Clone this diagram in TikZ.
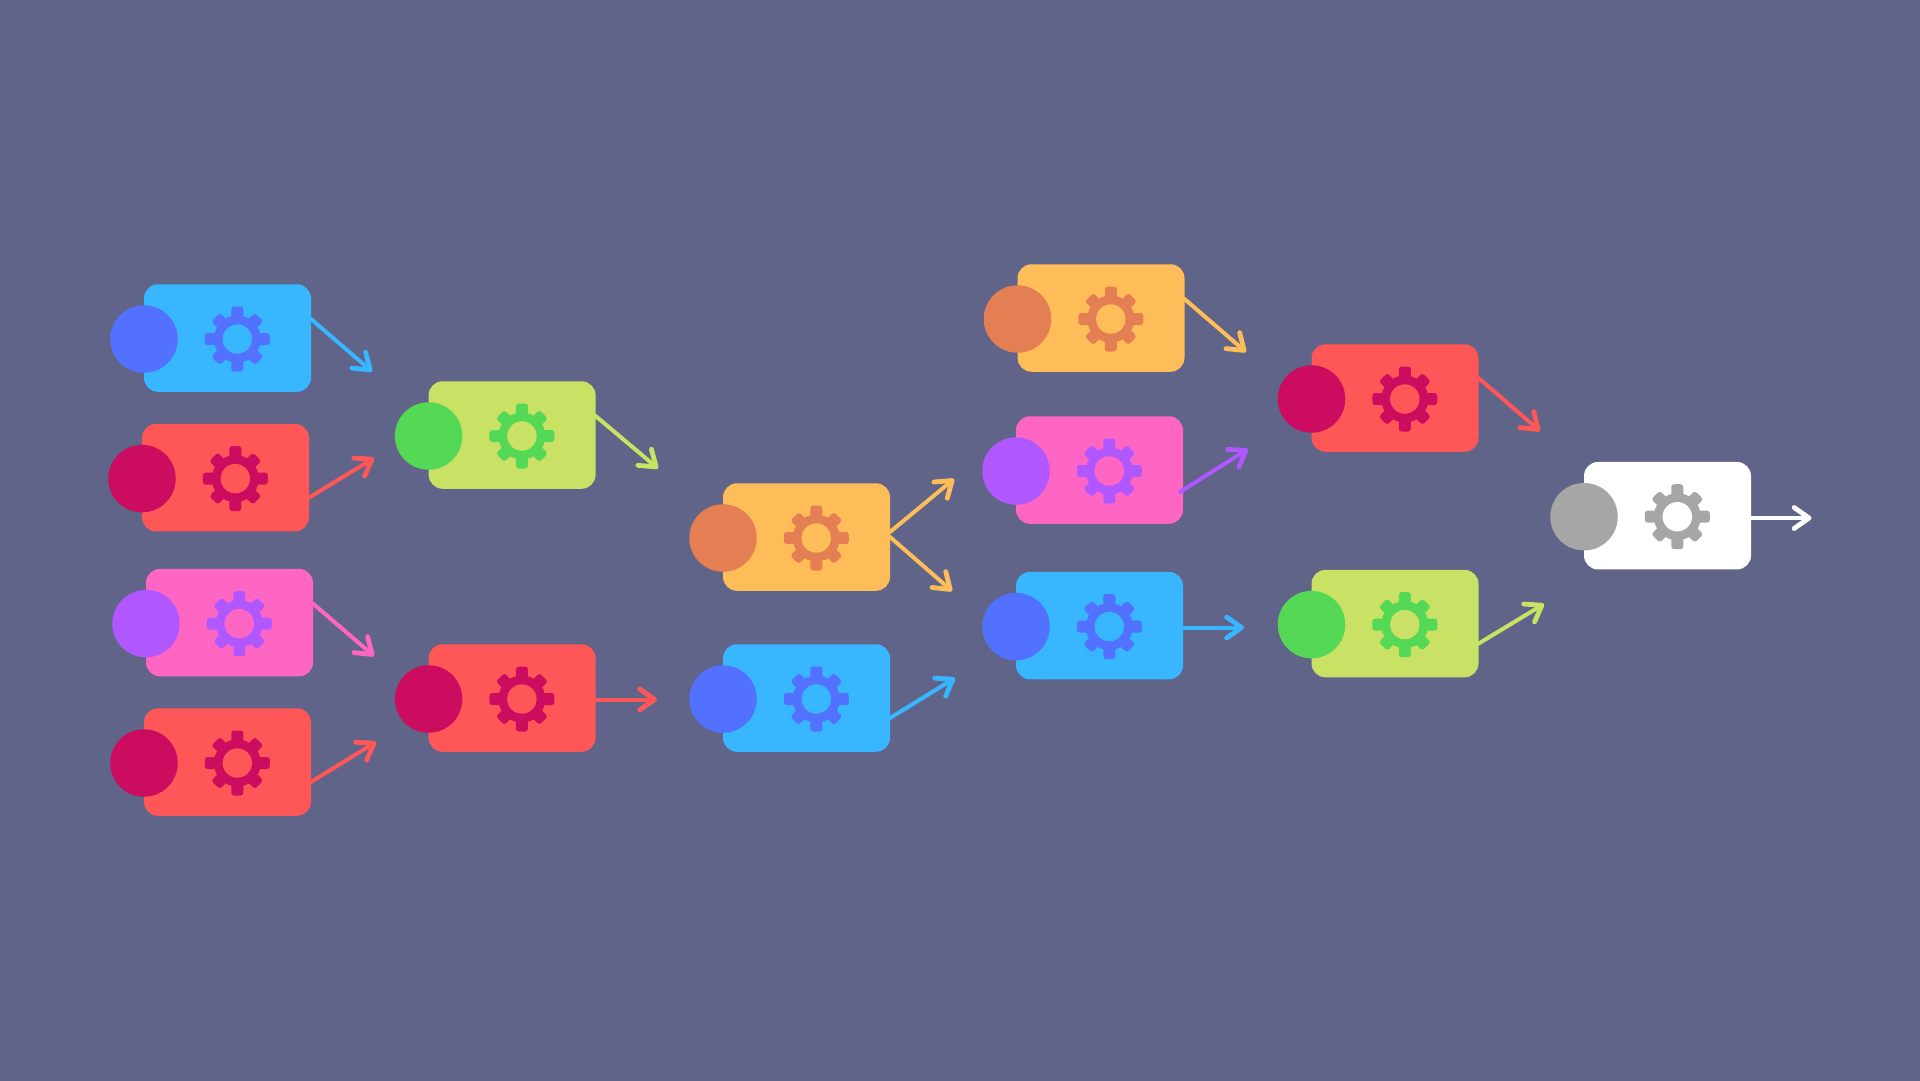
\documentclass[tikz,border=0pt]{standalone}
\usetikzlibrary{arrows.meta}
\definecolor{bg}{HTML}{5F6488}
\definecolor{cblue}{HTML}{38B6FF}\definecolor{dblue}{HTML}{5271FF}
\definecolor{cred}{HTML}{FF5757}\definecolor{dred}{HTML}{CB0C5F}
\definecolor{cpink}{HTML}{FF66C4}\definecolor{dpink}{HTML}{B157FF}
\definecolor{cgreen}{HTML}{C9E265}\definecolor{dgreen}{HTML}{55D855}
\definecolor{corange}{HTML}{FFBD59}\definecolor{dorange}{HTML}{E37F52}
\definecolor{cwhite}{HTML}{FFFFFF}\definecolor{dwhite}{HTML}{A6A6A6}
\tikzset{
  x=1pt,y=-1pt,
  cardbox/.style={rectangle,rounded corners=14pt,minimum width=167pt,minimum height=107.5pt,inner sep=0pt,outer sep=0pt,draw=none},
  dot/.style={circle,minimum size=67.5pt,inner sep=0pt,outer sep=0pt,draw=none},
  link/.style={line width=4pt,line cap=round,line join=round,-{Straight Barb[length=15pt,width=21pt,round,line width=4.8pt]}},
  gear/.pic={
    \fill[pic actions] (0,0) circle[radius=23.5];
    \foreach \a in {0,90,180,270}{
      \fill[pic actions,rotate=\a,rounded corners=2.8pt] (18,-6) rectangle (32.5,6);}
    \foreach \a in {45,135,225,315}{
      \fill[pic actions,rotate=\a,rounded corners=2.8pt] (18,-6) rectangle (30.8,6);}
  }
}
% \card{name}{left}{centre y}{colour}
\newcommand{\card}[4]{%
  \node[cardbox,fill=c#4] (#1) at (#2+83.5,#3-1) {};
  \pic[fill=d#4] at (#2+93.3,#3) {gear};
  \node[circle,minimum size=29.4pt,inner sep=0pt,fill=c#4] (#1h) at (#2+93.3,#3) {};
  \node[dot,fill=d#4] (#1c) at (#2,#3) {};
}
\begin{document}
\begin{tikzpicture}
\useasboundingbox (0,0) rectangle (1920,1080);
\fill[bg] (-2,-2) rectangle (1922,1082);
\coordinate (t1) at (372,371.5);
\coordinate (t2) at (374,458);
\coordinate (t3) at (374,656);
\coordinate (t4) at (376,742);
\coordinate (t5) at (658,468.5);
\coordinate (t6) at (657,699.5);
\coordinate (t7a) at (954,479);
\coordinate (t7b) at (952,591);
\coordinate (t8) at (955,678);
\coordinate (t9) at (1246,352);
\coordinate (t10) at (1248,449);
\coordinate (t11) at (1244,627.5);
\coordinate (t12) at (1540,431);
\coordinate (t13) at (1544,604);
\coordinate (t14) at (1811.5,518);
\card{a}{144}{339}{blue}
\card{b}{142}{478.6}{red}
\card{c}{146}{623.6}{pink}
\card{d}{144}{763}{red}
\card{e}{428.6}{436}{green}
\card{f}{428.6}{699}{red}
\card{g}{723}{538}{orange}
\card{h}{723}{699}{blue}
\card{i}{1017.5}{319}{orange}
\card{j}{1016}{471}{pink}
\card{k}{1016}{626.6}{blue}
\card{l}{1311.5}{399}{red}
\card{m}{1311.5}{624.6}{green}
\card{n}{1584}{516.7}{white}
\draw[link,cblue] ([yshift=19pt]a.east) -- (t1);
\draw[link,cred] ([yshift=-20pt]b.east) -- (t2);
\draw[link,cpink] ([yshift=19pt]c.east) -- (t3);
\draw[link,cred] ([yshift=-20pt]d.east) -- (t4);
\draw[link,cgreen] ([yshift=19pt]e.east) -- (t5);
\draw[link,cred] (f.east |- t6) -- (t6);
\draw[link,corange] ([yshift=5pt]g.east) -- (t7a);
\draw[link,corange] (g.east) -- (t7b);
\draw[link,cblue] ([yshift=-20pt]h.east) -- (t8);
\draw[link,corange] ([yshift=19pt]i.east) -- (t9);
\draw[link,dpink] ([xshift=-3pt,yshift=-22pt]j.east) -- (t10);
\draw[link,cblue] (k.east |- t11) -- (t11);
\draw[link,cred] ([yshift=20pt]l.east) -- (t12);
\draw[link,cgreen] ([yshift=-20pt]m.east) -- (t13);
\draw[link,cwhite] (n.east |- t14) -- (t14);
\end{tikzpicture}
\end{document}
